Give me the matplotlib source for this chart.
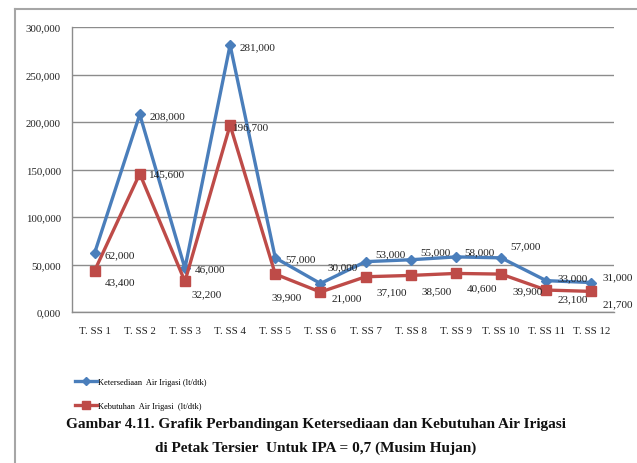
import matplotlib
matplotlib.use("Agg")
import matplotlib.pyplot as plt
from matplotlib.lines import Line2D
from matplotlib.ticker import FuncFormatter

categories = ["T. SS 1", "T. SS 2", "T. SS 3", "T. SS 4", "T. SS 5", "T. SS 6",
              "T. SS 7", "T. SS 8", "T. SS 9", "T. SS 10", "T. SS 11", "T. SS 12"]
ketersediaan = [62000, 208000, 46000, 281000, 57000, 30000,
                53000, 55000, 58000, 57000, 33000, 31000]
kebutuhan = [43400, 145600, 32200, 196700, 39900, 21000,
             37100, 38500, 40600, 39900, 23100, 21700]

# label offsets (points), style only
blue_off = [(7, -1), (7, -1), (7, 0), (7, -1), (7, -1), (5, 12),
            (7, 6), (7, 6), (6, 4), (7, 9), (8, 2), (8, 4)]
red_off = [(7, -8), (7, 0), (5, -9), (2, -1), (-3, -16), (8, -4),
           (8, -11), (8, -11), (8, -10), (8, -12), (8, -6), (8, -9)]

BLUE = "#4A7EBB"
RED = "#BE4B48"
GRID = "#8C8C8C"

plt.rcParams["font.family"] = ["Liberation Serif", "DejaVu Serif"]

fig = plt.figure(figsize=(6.37, 4.64), dpi=100)
ax = fig.add_axes([72 / 637, 1 - 313 / 464, (614 - 72) / 637, (313 - 28) / 464])

x = list(range(len(categories)))
ax.plot(x, ketersediaan, color=BLUE, lw=2.4, marker="D", ms=5.5,
        label="Ketersediaan  Air Irigasi (lt/dtk)", zorder=3)
ax.plot(x, kebutuhan, color=RED, lw=2.4, marker="s", ms=6.5,
        label="Kebutuhan  Air Irigasi  (lt/dtk)", zorder=3)

fmt = lambda v: f"{v:,.0f}"
for i in x:
    ax.annotate(fmt(ketersediaan[i]), (i, ketersediaan[i]), xytext=blue_off[i],
                textcoords="offset points", fontsize=8, ha="left", va="center",
                color="#222222", zorder=4)
    ax.annotate(fmt(kebutuhan[i]), (i, kebutuhan[i]), xytext=red_off[i],
                textcoords="offset points", fontsize=8, ha="left", va="center",
                color="#222222", zorder=4)

ax.set_xlim(-0.5, len(categories) - 0.5)
ax.set_ylim(0, 300000)
ax.set_yticks(range(0, 300001, 50000))
ax.yaxis.set_major_formatter(FuncFormatter(lambda v, p: f"{int(v):,}" if v else "0,000"))
ax.set_xticks(x)
ax.set_xticklabels(categories)
ax.tick_params(axis="both", length=0, labelsize=7.8, colors="#222222")
ax.tick_params(axis="y", pad=8)
ax.tick_params(axis="x", pad=10)
ax.grid(axis="y", color=GRID, lw=1.0)
ax.set_axisbelow(True)
for s in ["top", "right"]:
    ax.spines[s].set_visible(False)
for s in ["left", "bottom"]:
    ax.spines[s].set_color(GRID)
    ax.spines[s].set_linewidth(1.0)

leg = fig.legend(loc="upper left", bbox_to_anchor=(72 / 637, 1 - 376 / 464),
                 frameon=False, fontsize=6, handlelength=2.6, handletextpad=0.1,
                 labelspacing=1.9, borderaxespad=0, markerscale=0.8)

# outer frame
fig.add_artist(Line2D([14.5 / 637, 14.5 / 637], [0, 1 - 10 / 464], transform=fig.transFigure,
                      color="#A6A6A6", lw=1.5))
fig.add_artist(Line2D([14.5 / 637, 1], [1 - 10 / 464, 1 - 10 / 464], transform=fig.transFigure,
                      color="#A6A6A6", lw=1.5))

fig.text(316 / 637, 1 - 425 / 464,
         "Gambar 4.11. Grafik Perbandingan Ketersediaan dan Kebutuhan Air Irigasi",
         ha="center", va="center", fontsize=11, fontweight="bold", color="#111111")
fig.text(316 / 637, 1 - 448 / 464,
         "di Petak Tersier  Untuk IPA = 0,7 (Musim Hujan)",
         ha="center", va="center", fontsize=11, fontweight="bold", color="#111111")

fig.savefig("out.png", dpi=100)
